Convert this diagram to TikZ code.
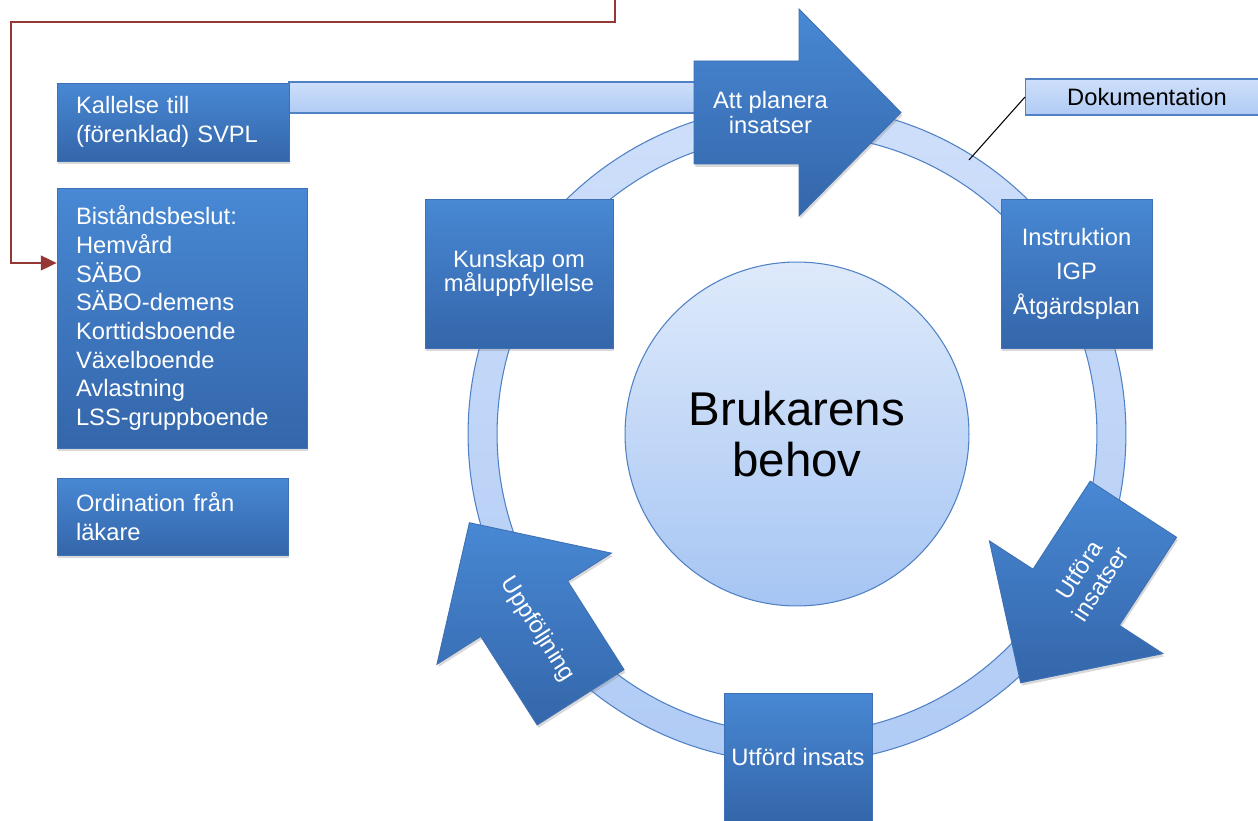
\documentclass[tikz,border=0pt]{standalone}
\usepackage{fontspec}
\setmainfont{Liberation Sans}
\usepackage{tikz}
\usetikzlibrary{positioning}
\usetikzlibrary{arrows.meta,shadows}
\definecolor{boxtop}{RGB}{72,136,212}
\definecolor{boxbot}{RGB}{52,102,170}
\definecolor{boxedge}{RGB}{62,112,180}
\definecolor{ringtop}{RGB}{206,223,250}
\definecolor{ringbot}{RGB}{176,203,245}
\definecolor{ringedge}{RGB}{79,129,196}
\definecolor{hubtop}{RGB}{222,234,251}
\definecolor{hubbot}{RGB}{166,197,243}
\definecolor{feedred}{RGB}{149,55,53}

\begin{document}
\begin{tikzpicture}[x=0.02cm,y=-0.02cm,
 bluebox/.style={draw=boxedge,line width=0.5pt,top color=boxtop,bottom color=boxbot,text=white,inner sep=0pt,
  font=\fontsize{13.5}{16.3}\selectfont,drop shadow={opacity=0.3,shadow xshift=0.8pt,shadow yshift=-1.6pt}},
 lightbox/.style={draw=ringedge,line width=0.6pt,top color=ringtop,bottom color=ringbot,inner sep=0pt},
 arrowtext/.style={text=white,align=center,font=\fontsize{13.5}{14.5}\selectfont},
 feed/.style={draw=feedred,line width=0.9pt,-{Triangle[length=9pt,width=8.5pt]}}]
 \useasboundingbox (0,0) rectangle (1258,821);
 \coordinate (c) at (797,434);
 \path[lightbox,even odd rule] (c) circle (6.58cm) (c) circle (6.0cm);
 \node[circle,draw=ringedge,line width=0.6pt,top color=hubtop,bottom color=hubbot,minimum size=6.88cm,
  align=center,font=\fontsize{27}{29}\selectfont] (behov) at (c) {Brukarens\\behov};
 \path[lightbox] (289,82) rectangle (700,113);
 \begin{scope}[shift={(797.5,112.5)}]
  \path[bluebox] (-103.5,-51.5) -- (1.5,-51.5) -- (1.5,-103.5) -- (103.5,0) -- (1.5,103.5) -- (1.5,51.5) -- (-103.5,51.5) -- cycle;
  \node[arrowtext] (plan) at (-27,0) {Att planera\\insatser};
 \end{scope}
 \begin{scope}[shift={(1077,596)},rotate=-123]
  \path[bluebox] (-103.5,-51.5) -- (1.5,-51.5) -- (1.5,-103.5) -- (103.5,0) -- (1.5,103.5) -- (1.5,51.5) -- (-103.5,51.5) -- cycle;
  \node[arrowtext,rotate=57] (utfora) at (-23,0) {Utföra\\insatser};
 \end{scope}
 \begin{scope}[shift={(525,610)},rotate=122.5]
  \path[bluebox] (-103.5,-51.5) -- (1.5,-51.5) -- (1.5,-103.5) -- (103.5,0) -- (1.5,103.5) -- (1.5,51.5) -- (-103.5,51.5) -- cycle;
  \node[arrowtext,rotate=-57.5] (uppf) at (-23,0) {Uppföljning};
 \end{scope}
 \node[bluebox,minimum width=4.64cm,minimum height=1.56cm,text width=3.88cm,align=left] (kal) at (173,122) {Kallelse till\\(förenklad) SVPL};
 \node[bluebox,minimum width=5.0cm,minimum height=5.2cm,text width=4.24cm,align=left] (bist) at (182,318)
  {Biståndsbeslut:\\Hemvård\\SÄBO\\SÄBO-demens\\Korttidsboende\\Växelboende\\Avlastning\\LSS-gruppboende};
 \node[bluebox,minimum width=4.62cm,minimum height=1.54cm,text width=3.86cm,align=left] (ord) at (172.5,516.5) {Ordination från\\läkare};
 \node[bluebox,minimum width=3.76cm,minimum height=2.98cm,align=center,font=\fontsize{13.5}{13.9}\selectfont] (kunskap) at (519,273.5) {Kunskap om\\måluppfyllelse};
 \node[bluebox,minimum width=3.02cm,minimum height=2.98cm,align=center,font=\fontsize{13.5}{19.6}\selectfont] (instr) at (1076.5,273.5) {Instruktion\\IGP\\Åtgärdsplan};
 \node[bluebox,minimum width=2.96cm,minimum height=2.56cm] (utford) at (798,757) {Utförd insats};
 \node[lightbox,anchor=west,minimum width=4.86cm,minimum height=0.72cm,font=\fontsize{13.5}{16}\selectfont] (dok) at (1025,97) {Dokumentation};
 \coordinate (dokpt) at (969,160);
 \draw[black,line width=0.6pt] (dok.west) -- (dokpt);
 \coordinate (src) at (615,-10);
 \coordinate (turn) at (11,22);
 \coordinate (hit) at (bist.west |- 0,263);
 \draw[feed] (src) |- (turn) |- (hit);
\end{tikzpicture}
\end{document}
